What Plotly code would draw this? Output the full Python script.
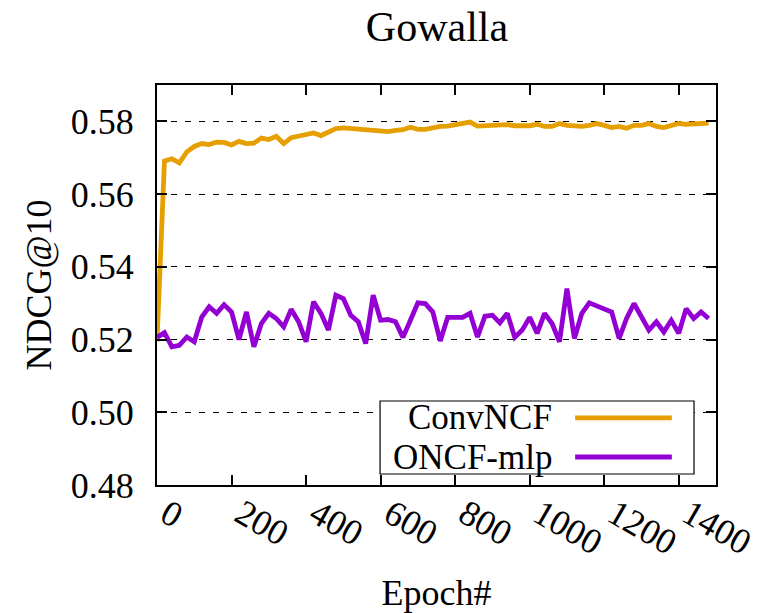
import plotly.graph_objects as go

epochs = list(range(0, 1500, 20))

convncf = [0.5195, 0.5691, 0.5697, 0.5686, 0.5716, 0.5731, 0.5739, 0.5736, 0.5743, 0.5742,
           0.5735, 0.5745, 0.5739, 0.5740, 0.5754, 0.5750, 0.5759, 0.5739, 0.5755, 0.5759,
           0.5764, 0.5768, 0.5761, 0.5770, 0.5780, 0.5782, 0.5780, 0.5778, 0.5775, 0.5773,
           0.5773, 0.5772, 0.5775, 0.5777, 0.5784, 0.5778, 0.5778, 0.5783, 0.5786, 0.5787,
           0.5791, 0.5794, 0.5798, 0.5787, 0.5788, 0.5789, 0.5787, 0.5791, 0.5788, 0.5788,
           0.5788, 0.5792, 0.5786, 0.5786, 0.5794, 0.5789, 0.5787, 0.5786, 0.5789, 0.5794,
           0.5789, 0.5783, 0.5786, 0.5781, 0.5789, 0.5789, 0.5794, 0.5786, 0.5783, 0.5789,
           0.5794, 0.5792, 0.5794, 0.5794, 0.5795]

oncf_mlp = [0.5206, 0.5219, 0.5180, 0.5184, 0.5207, 0.5194, 0.5262, 0.5290, 0.5272, 0.5296,
            0.5276, 0.5200, 0.5276, 0.5180, 0.5244, 0.5272, 0.5258, 0.5235, 0.5283, 0.5249,
            0.5194, 0.5304, 0.5272, 0.5226, 0.5322, 0.5313, 0.5267, 0.5249, 0.5189, 0.5322,
            0.5253, 0.5255, 0.5249, 0.5206, 0.5253, 0.5301, 0.5299, 0.5276, 0.5196, 0.5261,
            0.5261, 0.5261, 0.5272, 0.5207, 0.5264, 0.5267, 0.5246, 0.5272, 0.5206, 0.5226,
            0.5261, 0.5217, 0.5272, 0.5244, 0.5194, 0.5340, 0.5203, 0.5272, 0.5301, 0.5293,
            0.5284, 0.5276, 0.5203, 0.5258, 0.5299, 0.5262, 0.5226, 0.5249, 0.5221, 0.5253,
            0.5217, 0.5285, 0.5258, 0.5276, 0.5258]

series_names = ["ConvNCF", "ONCF-mlp"]
series_colors = ["#E69F00", "#9400D3"]
x_ticks = [0, 200, 400, 600, 800, 1000, 1200, 1400]
y_ticks = [0.48, 0.50, 0.52, 0.54, 0.56, 0.58]

FONT = "Liberation Serif"

fig = go.Figure()
for name, vals, col in zip(series_names, [convncf, oncf_mlp], series_colors):
    fig.add_trace(go.Scatter(x=epochs, y=vals, mode="lines", name=name,
                             line=dict(color=col, width=4.8), showlegend=False))

# gnuplot-style legend (text on the left, sample on the right)
box = dict(x0=0.399, x1=0.9607, y0=0.0275, y1=0.21)
fig.add_shape(type="rect", xref="paper", yref="paper", layer="above",
              fillcolor="white", line=dict(color="black", width=1.2), **box)
rows_y = [0.168, 0.0700]
for name, col, yy in zip(series_names, series_colors, rows_y):
    fig.add_shape(type="line", xref="paper", yref="paper", layer="above",
                  x0=0.748, x1=0.921, y0=yy, y1=yy, line=dict(color=col, width=4.8))
    fig.add_annotation(x=0.710, y=yy, xref="paper", yref="paper", text=name,
                       showarrow=False, xanchor="right", yanchor="middle",
                       font=dict(family=FONT, size=35, color="black"))

fig.update_layout(
    width=758, height=613,
    margin=dict(l=157, r=42, t=85, b=128, autoexpand=False),
    paper_bgcolor="white", plot_bgcolor="white",
    font=dict(family=FONT, size=36, color="black"),
    title=dict(text="Gowalla", x=0.5765, xanchor="center", y=0.957, yanchor="middle",
               font=dict(family=FONT, size=42, color="black")),
)
fig.update_xaxes(
    range=[0, 1500], tickmode="array", tickvals=x_ticks, ticktext=[str(v) for v in x_ticks],
    tickangle=30, ticks="inside", ticklen=10, tickwidth=1.5, tickcolor="black",
    showline=True, linecolor="black", linewidth=2, mirror="allticks",
    showgrid=False, zeroline=False, ticklabelstandoff=-8, ticklabelshift=10,
    ticklabeloverflow="allow", automargin=False,
    title=dict(text="Epoch#", standoff=48, font=dict(family=FONT, size=36)),
)
fig.update_yaxes(
    range=[0.48, 0.59], tickmode="array", tickvals=y_ticks,
    ticktext=[f"{v:.2f}" for v in y_ticks],
    ticks="inside", ticklen=10, tickwidth=1.5, tickcolor="black",
    showline=True, linecolor="black", linewidth=2, mirror="allticks",
    showgrid=True, gridcolor="black", gridwidth=1, griddash="6px,8px",
    zeroline=False, ticklabelstandoff=14, automargin=False,
    title=dict(text="NDCG@10", standoff=8, font=dict(family=FONT, size=36)),
)

fig.write_html("out.html")
